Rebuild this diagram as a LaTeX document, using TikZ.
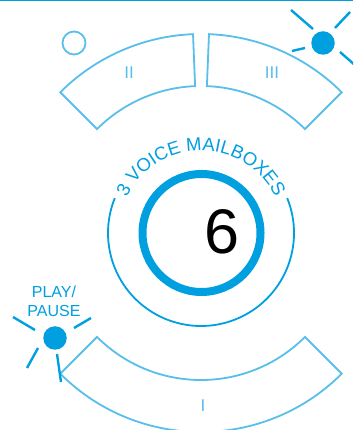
\documentclass[tikz,border=0pt]{standalone}
\usepackage{fontspec}
\setmainfont{Liberation Sans}
\usetikzlibrary{calc,decorations.text}
\definecolor{dblue}{RGB}{0,159,223}
\definecolor{lblue}{RGB}{88,190,234}
\newcommand\arcfont{\fontsize{18.5}{18.5}\selectfont}
\tikzset{
  btn/.style={draw=lblue, line width=1.8pt, line join=miter},
  btnlabel/.style={text=lblue, font=\fontsize{17}{17}\selectfont, inner sep=0pt},
  ray/.style={draw=dblue, line width=2.4pt},
  led/.style={circle, fill=dblue, minimum size=23.5pt, inner sep=0pt},
  pltext/.style={anchor=base, text=dblue, font=\fontsize{16}{16}\selectfont, inner sep=0pt},
}
\begin{document}
\begin{tikzpicture}[x=1pt,y=1pt]
\useasboundingbox (0,0) rectangle (353,430);
\clip (0,0) rectangle (353,430);
% top rule
\fill[dblue] (0,428.6) rectangle (353,430);
\coordinate (C) at (201,197);
% buttons
\draw[btn] (C) ++(92.3:199) arc[start angle=92.3,end angle=135,radius=199] -- ++(135:-52) arc[start angle=135,end angle=92.3,radius=147] -- cycle;
\draw[btn] (C) ++(45:199) arc[start angle=45,end angle=87.7,radius=199] -- ++(87.7:-52) arc[start angle=87.7,end angle=45,radius=147] -- cycle;
\draw[btn] (C) ++(225:199) arc[start angle=225,end angle=315,radius=199] -- ++(315:-52) arc[start angle=315,end angle=225,radius=147] -- cycle;
\node[btnlabel] (l2) at (129,357) {II};
\node[btnlabel] (l3) at (272,357) {III};
\node[btnlabel] (l1) at (203,24) {I};
% dial
\draw[dblue, line width=1.8pt] (C) ++(22:93) arc[start angle=22,end angle=-202,radius=93];
\draw[dblue, line width=8pt] (201.5,197) circle[radius=59];
\node[inner sep=0pt, font=\fontsize{63}{63}\selectfont] (six) at (222,198) {6};
\path[decorate, decoration={text along path, text align=center, text color=dblue,
  text={|\arcfont|3 VOICE MAILBOXES}}]
  (C) ++(180:82.5) arc[start angle=180,end angle=0,radius=82.5];
% hollow indicator
\node[circle, draw=lblue, line width=1.8pt, minimum size=23pt, inner sep=0pt] (off) at (74,387) {};
% lit indicator top right
\node[led] (d2) at (323,387) {};
\draw[ray] ($(d2)+(-10,14)$) -- ($(d2)+(-32,33)$);
\draw[ray] ($(d2)+(12,15)$) -- ($(d2)+(27,31)$);
\draw[ray] ($(d2)+(-18,-5)$) -- ($(d2)+(-31,-8)$);
\draw[ray] ($(d2)+(17,-9)$) -- ($(d2)+(33,-23)$);
% play/pause indicator
\node[led] (d1) at (55,92) {};
\draw[ray] ($(d1)+(-20,8)$) -- ($(d1)+(-42,21)$);
\draw[ray] ($(d1)+(19,10)$) -- ($(d1)+(36,20)$);
\draw[ray] ($(d1)+(-17,-10)$) -- ($(d1)+(-28,-30)$);
\draw[ray] ($(d1)+(2,-16)$) -- ($(d1)+(6,-44)$);
\node[pltext] (pl1) at (54,132) {PLAY/};
\node[pltext] (pl2) at (54,113) {PAUSE};
\end{tikzpicture}
\end{document}
